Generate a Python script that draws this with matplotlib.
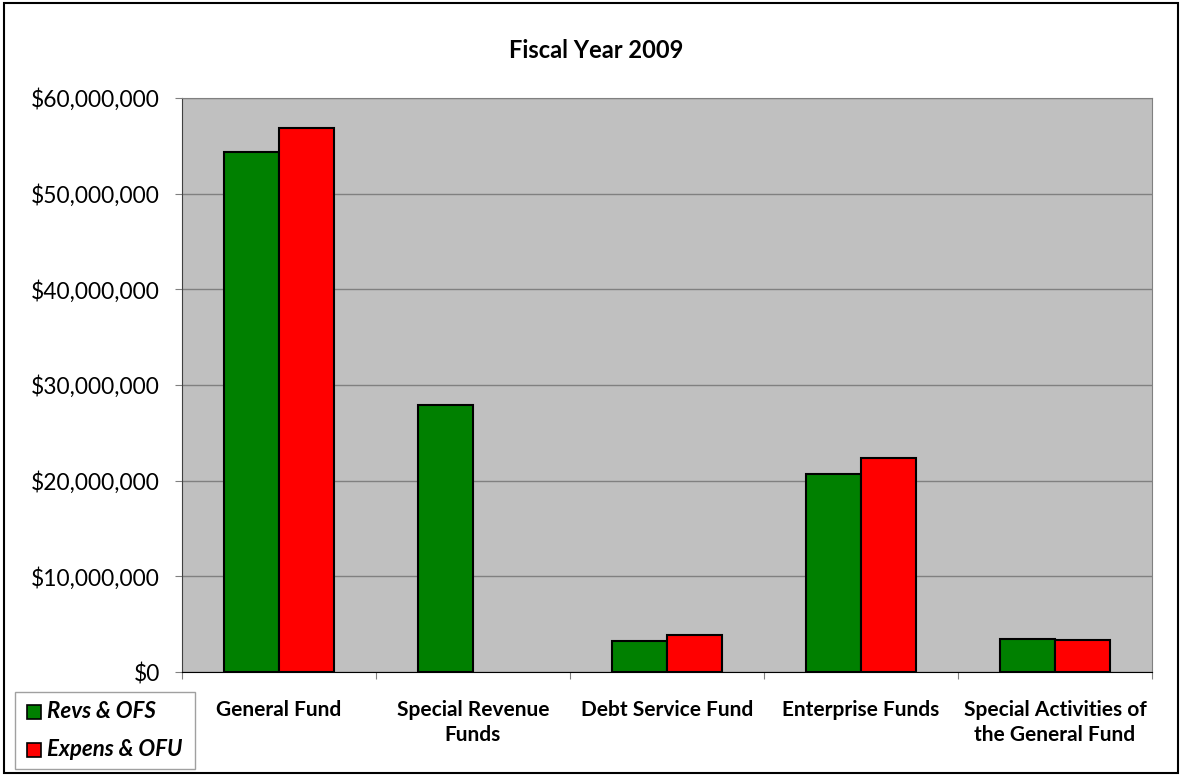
import numpy as np
import matplotlib.pyplot as plt
from matplotlib.patches import Rectangle
from matplotlib.ticker import FuncFormatter

funds = ['General Fund', 'Special Revenue\nFunds', 'Debt Service Fund',
         'Enterprise Funds', 'Special Activities of\nthe General Fund']
revs = [54.4e6, 27.9e6, 3.25e6, 20.7e6, 3.5e6]
expens = [56.9e6, 0, 3.85e6, 22.4e6, 3.3e6]

plt.rcParams['font.family'] = ['Lato', 'DejaVu Sans']

fig = plt.figure(figsize=(11.82, 7.76), dpi=100)
ax = fig.add_axes([182/1182, 1 - 672/776, (1152-182)/1182, (672-98)/776])
ax.set_facecolor('#c0c0c0')

x = np.arange(len(funds))
w = 0.286
ax.bar(x - w/2, revs, w, color='#008000', edgecolor='black', linewidth=1.5, zorder=3)
# a zero bar gets no outline
ax.bar(x + w/2, expens, w, color='#ff0000',
       edgecolor=['black' if v > 0 else 'none' for v in expens],
       linewidth=1.5, zorder=3)

ax.set_xlim(-0.5, len(funds) - 0.5)
ax.set_ylim(0, 60e6)
ax.set_yticks(np.arange(0, 60e6 + 1, 10e6))
ax.yaxis.set_major_formatter(FuncFormatter(lambda v, p: '${:,.0f}'.format(v)))
ax.grid(axis='y', color='#808080', linewidth=1, zorder=0)
ax.tick_params(axis='y', labelsize=16.4, length=5, color='#808080', pad=11)

ax.set_xticks(np.arange(-0.5, len(funds), 1))
ax.set_xticklabels([])
ax.set_xticks(x, minor=True)
ax.set_xticklabels(funds, minor=True, fontsize=15, fontweight='bold',
                   linespacing=1.35)
ax.tick_params(axis='x', which='major', length=5, color='#808080')
ax.tick_params(axis='x', which='minor', length=0, pad=20)

for s in ['top', 'right']:
    ax.spines[s].set_color('#808080')
ax.spines['left'].set_color('#404040')
ax.spines['bottom'].set_color('black')

fig.text(596/1182, 1 - 50/776, 'Fiscal Year 2009', ha='center', va='center',
         fontsize=17, fontweight='bold')

# legend box in the lower left corner
fig.patches.append(Rectangle((15/1182, 1 - 769/776), 180/1182, 77/776,
                             transform=fig.transFigure, facecolor='white',
                             edgecolor='#a0a0a0', linewidth=1))
for i, (lab, col) in enumerate([('Revs & OFS', '#008000'), ('Expens & OFU', '#ff0000')]):
    yc = 712 + i * 38
    fig.patches.append(Rectangle((27/1182, 1 - (yc + 7)/776), 14/1182, 14/776,
                                 transform=fig.transFigure, facecolor=col,
                                 edgecolor='black', linewidth=1.2))
    fig.text(47/1182, 1 - yc/776, lab, ha='left', va='center', fontsize=16,
             fontweight='bold', fontstyle='italic')

# outer chart border
fig.patches.append(Rectangle((4/1182, 3/776), 1174/1182, 770/776,
                             transform=fig.transFigure, fill=False,
                             edgecolor='black', linewidth=1.5))

fig.savefig('out.png', dpi=100)
